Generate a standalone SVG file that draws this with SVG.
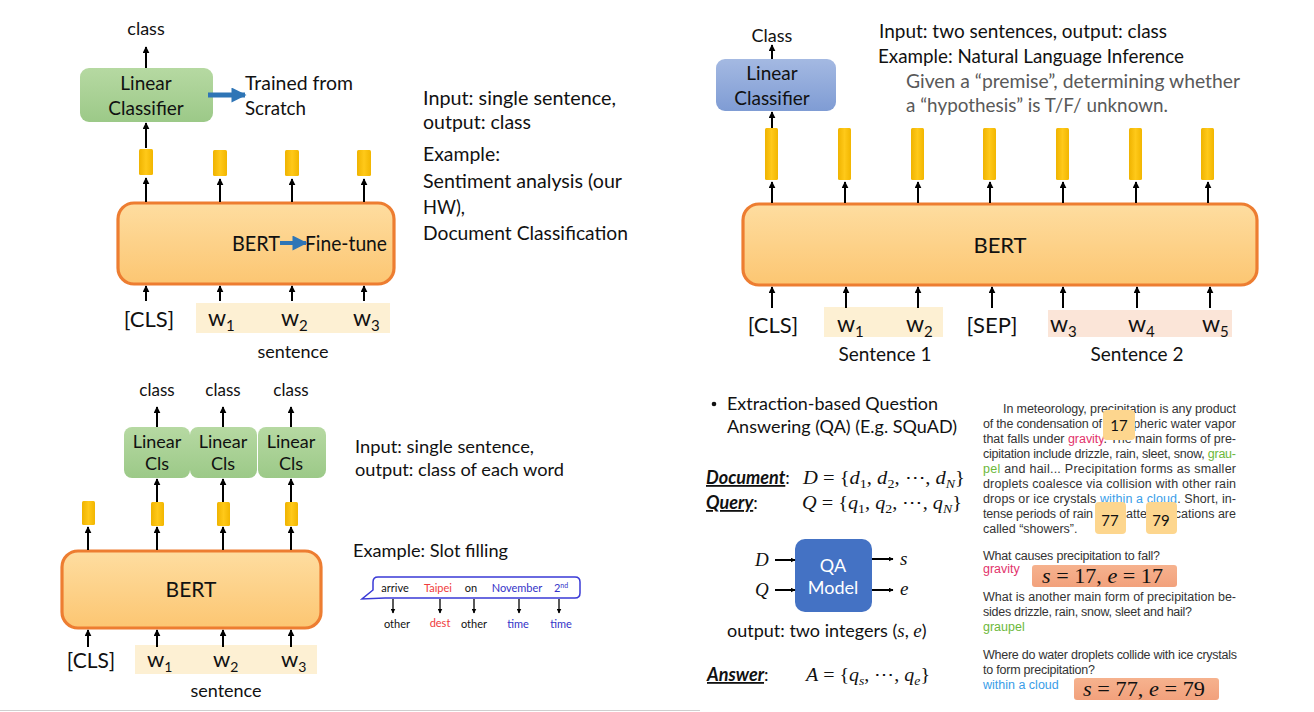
<svg xmlns="http://www.w3.org/2000/svg" width="1314" height="712" viewBox="0 0 1314 712">
<defs>
<style>
.t{font-family:Lato,"Open Sans","Liberation Sans",sans-serif;fill:#111}
.g{fill:#595959}
.m{font-family:"Liberation Serif","DejaVu Serif",serif;font-style:italic;fill:#111}
.p{font-family:"Liberation Sans",Arial,sans-serif;font-size:12.5px;fill:#333}
.ln{stroke:#000;stroke-width:2;fill:none;marker-end:url(#ah)}
.sl{stroke:#000;stroke-width:1.3;fill:none;marker-end:url(#ahs)}
.bl{stroke:#2e75b6;stroke-width:5;fill:none;marker-end:url(#bh)}
.bar{fill:url(#yel)}
.bert{fill:url(#org);stroke:#ed7d31;stroke-width:3.2}
.grn{fill:url(#gr)}
.sbg1{fill:#fdf0d3}
.sbg2{fill:#fbe5d8}
.nb{fill:#fdd68e}
.ans{fill:url(#sal)}
</style>
<linearGradient id="yel" x1="0" y1="0" x2="1" y2="0"><stop offset="0" stop-color="#efb300"/><stop offset="0.5" stop-color="#ffc919"/><stop offset="1" stop-color="#f2b600"/></linearGradient>
<linearGradient id="org" x1="0" y1="0" x2="0" y2="1"><stop offset="0" stop-color="#fedda0"/><stop offset="1" stop-color="#fcc672"/></linearGradient>
<linearGradient id="gr" x1="0" y1="0" x2="0" y2="1"><stop offset="0" stop-color="#b6d9a2"/><stop offset="1" stop-color="#9cc988"/></linearGradient>
<linearGradient id="blu" x1="0" y1="0" x2="0" y2="1"><stop offset="0" stop-color="#a4b9e2"/><stop offset="1" stop-color="#7f9cd4"/></linearGradient>
<linearGradient id="sal" x1="0" y1="0" x2="0" y2="1"><stop offset="0" stop-color="#f6b28e"/><stop offset="1" stop-color="#f2a17c"/></linearGradient>
<marker id="ah" viewBox="0 0 10 10" refX="9" refY="5" markerWidth="7" markerHeight="7" markerUnits="userSpaceOnUse" orient="auto"><path d="M0,0 L10,5 L0,10 z" fill="#000"/></marker>
<marker id="ahs" viewBox="0 0 10 10" refX="9" refY="5" markerWidth="5" markerHeight="5" markerUnits="userSpaceOnUse" orient="auto"><path d="M0,0 L10,5 L0,10 z" fill="#000"/></marker>
<marker id="bh" viewBox="0 0 10 10" refX="9" refY="5" markerWidth="16" markerHeight="15" markerUnits="userSpaceOnUse" orient="auto"><path d="M0,0 L10,5 L0,10 z" fill="#2e75b6"/></marker>
</defs>
<rect width="1314" height="712" fill="#fff"/>

<!-- ===== Top-left panel ===== -->
<g id="tl-class"><text class="t" x="146" y="35" font-size="18" text-anchor="middle">class</text></g>
<g id="tl-linear"><rect class="grn" x="80" y="68" width="133" height="54" rx="9"/>
<text class="t" x="146" y="90" font-size="19" text-anchor="middle">Linear</text>
<text class="t" x="146" y="115" font-size="19" text-anchor="middle">Classifier</text></g>
<g id="tl-trained"><text class="t" x="245" y="90" font-size="19" textLength="108" lengthAdjust="spacingAndGlyphs">Trained from</text>
<text class="t" x="245" y="115" font-size="19" textLength="61" lengthAdjust="spacingAndGlyphs">Scratch</text></g>
<g id="tl-bars"><rect class="bar" x="139" y="149" width="14" height="26" rx="1.5"/><rect class="bar" x="213" y="150" width="14" height="26" rx="1.5"/><rect class="bar" x="285" y="150" width="14" height="26" rx="1.5"/><rect class="bar" x="357" y="150" width="14" height="26" rx="1.5"/></g>
<g id="tl-bert"><rect class="bert" x="118" y="203" width="276" height="81" rx="16"/>
<text class="t" x="232" y="251" font-size="22" textLength="48" lengthAdjust="spacingAndGlyphs">BERT</text>
<text class="t" x="305" y="251" font-size="21" textLength="82" lengthAdjust="spacingAndGlyphs">Fine-tune</text></g>
<g id="tl-inputs"><rect class="sbg1" x="196" y="303" width="194" height="30"/>
<text class="t" x="149" y="327" font-size="22" text-anchor="middle">[CLS]</text>
<text class="t" x="208" y="326" font-size="23">w<tspan dy="5" font-size="15">1</tspan></text>
<text class="t" x="281" y="326" font-size="23">w<tspan dy="5" font-size="15">2</tspan></text>
<text class="t" x="353" y="326" font-size="23">w<tspan dy="5" font-size="15">3</tspan></text>
<text class="t" x="293" y="358" font-size="18" text-anchor="middle">sentence</text></g>
<g id="tl-desc">
<text class="t" x="423" y="105" font-size="19" textLength="193" lengthAdjust="spacingAndGlyphs">Input: single sentence,</text>
<text class="t" x="423" y="129" font-size="19" textLength="108" lengthAdjust="spacingAndGlyphs">output: class</text>
<text class="t" x="423" y="161" font-size="19" textLength="77" lengthAdjust="spacingAndGlyphs">Example:</text>
<text class="t" x="423" y="188" font-size="19" textLength="199" lengthAdjust="spacingAndGlyphs">Sentiment analysis (our</text>
<text class="t" x="423" y="214" font-size="19" textLength="42" lengthAdjust="spacingAndGlyphs">HW),</text>
<text class="t" x="423" y="240" font-size="19" textLength="205" lengthAdjust="spacingAndGlyphs">Document Classification</text>
</g>

<!-- ===== Top-right panel ===== -->
<g id="tr-class"><text class="t" x="772" y="42" font-size="18" text-anchor="middle">Class</text></g>
<g id="tr-linear"><rect x="716" y="59" width="120" height="52" rx="9" fill="url(#blu)"/>
<text class="t" x="772" y="80" font-size="19" text-anchor="middle">Linear</text>
<text class="t" x="772" y="105" font-size="19" text-anchor="middle">Classifier</text></g>
<g id="tr-desc">
<text class="t" x="879" y="38" font-size="19" textLength="288" lengthAdjust="spacingAndGlyphs">Input: two sentences, output: class</text>
<text class="t" x="878" y="63" font-size="19" textLength="306" lengthAdjust="spacingAndGlyphs">Example: Natural Language Inference</text>
<text class="t g" x="906" y="88" font-size="20" textLength="334" lengthAdjust="spacingAndGlyphs">Given a “premise”, determining whether</text>
<text class="t g" x="906" y="112" font-size="20" textLength="262" lengthAdjust="spacingAndGlyphs">a “hypothesis” is T/F/ unknown.</text>
</g>
<g id="tr-bars"><rect class="bar" x="765" y="128" width="13" height="52" rx="1.5"/><rect class="bar" x="838" y="128" width="13" height="52" rx="1.5"/><rect class="bar" x="911" y="128" width="13" height="52" rx="1.5"/><rect class="bar" x="983" y="128" width="13" height="52" rx="1.5"/><rect class="bar" x="1056" y="128" width="13" height="52" rx="1.5"/><rect class="bar" x="1129" y="128" width="13" height="52" rx="1.5"/><rect class="bar" x="1201" y="128" width="13" height="52" rx="1.5"/></g>
<g id="tr-bert"><rect class="bert" x="743" y="204" width="514" height="81" rx="16"/>
<text class="t" x="1000" y="253" font-size="22" text-anchor="middle">BERT</text></g>
<g id="tr-inputs"><rect class="sbg1" x="824" y="307" width="119" height="30"/><rect class="sbg2" x="1048" y="310" width="184" height="27"/>
<text class="t" x="773" y="333" font-size="22" text-anchor="middle">[CLS]</text>
<text class="t" x="837" y="332" font-size="23">w<tspan dy="5" font-size="15">1</tspan></text>
<text class="t" x="906" y="332" font-size="23">w<tspan dy="5" font-size="15">2</tspan></text>
<text class="t" x="992" y="333" font-size="22" text-anchor="middle">[SEP]</text>
<text class="t" x="1050" y="332" font-size="23">w<tspan dy="5" font-size="15">3</tspan></text>
<text class="t" x="1128" y="332" font-size="23">w<tspan dy="5" font-size="15">4</tspan></text>
<text class="t" x="1202" y="332" font-size="23">w<tspan dy="5" font-size="15">5</tspan></text>
<text class="t" x="885" y="361" font-size="19" text-anchor="middle">Sentence 1</text>
<text class="t" x="1137" y="361" font-size="19" text-anchor="middle">Sentence 2</text></g>

<!-- ===== Bottom-left panel ===== -->
<g id="bl-classes"><text class="t" x="157" y="396" font-size="17" text-anchor="middle">class</text><text class="t" x="223" y="396" font-size="17" text-anchor="middle">class</text><text class="t" x="291" y="396" font-size="17" text-anchor="middle">class</text></g>
<g id="bl-cls1"><rect class="grn" x="124" y="427" width="66" height="51" rx="8"/><text class="t" x="157" y="448" font-size="18" text-anchor="middle">Linear</text><text class="t" x="157" y="470" font-size="18" text-anchor="middle">Cls</text></g>
<g id="bl-cls2"><rect class="grn" x="190" y="427" width="67" height="51" rx="8"/><text class="t" x="223" y="448" font-size="18" text-anchor="middle">Linear</text><text class="t" x="223" y="470" font-size="18" text-anchor="middle">Cls</text></g>
<g id="bl-cls3"><rect class="grn" x="258" y="427" width="68" height="51" rx="8"/><text class="t" x="291" y="448" font-size="18" text-anchor="middle">Linear</text><text class="t" x="291" y="470" font-size="18" text-anchor="middle">Cls</text></g>
<g id="bl-bars"><rect class="bar" x="82" y="501" width="13" height="24" rx="1.5"/><rect class="bar" x="151" y="502" width="13" height="24" rx="1.5"/><rect class="bar" x="217" y="502" width="13" height="24" rx="1.5"/><rect class="bar" x="285" y="502" width="13" height="24" rx="1.5"/></g>
<g id="bl-bert"><rect class="bert" x="62" y="551" width="259" height="77" rx="16"/><text class="t" x="191" y="597" font-size="21" text-anchor="middle">BERT</text></g>
<g id="bl-inputs"><rect class="sbg1" x="135" y="645" width="182" height="29"/>
<text class="t" x="91" y="668" font-size="21" text-anchor="middle">[CLS]</text>
<text class="t" x="147" y="667" font-size="22">w<tspan dy="5" font-size="14">1</tspan></text>
<text class="t" x="213" y="667" font-size="22">w<tspan dy="5" font-size="14">2</tspan></text>
<text class="t" x="281" y="667" font-size="22">w<tspan dy="5" font-size="14">3</tspan></text>
<text class="t" x="226" y="697" font-size="18" text-anchor="middle">sentence</text></g>
<g id="bl-desc">
<text class="t" x="355" y="453" font-size="18" textLength="179" lengthAdjust="spacingAndGlyphs">Input: single sentence,</text>
<text class="t" x="355" y="476" font-size="18" textLength="209" lengthAdjust="spacingAndGlyphs">output: class of each word</text>
<text class="t" x="353" y="557" font-size="18" textLength="155" lengthAdjust="spacingAndGlyphs">Example: Slot filling</text>
</g>
<g id="bl-slot">
<path d="M378,577 H575 Q580,577 580,582 V593 Q580,598 575,598 H385 L362,599 L373,590 V582 Q373,577 378,577 Z" fill="#fff" stroke="#3a3ad6" stroke-width="1.5"/>
<g class="t" font-size="11" text-anchor="middle">
<text x="395" y="592">arrive</text><text x="438" y="592" style="fill:#f03c3c">Taipei</text><text x="471" y="592">on</text><text x="517" y="592" style="fill:#3434c8">November</text><text x="561" y="592" style="fill:#3434c8">2<tspan dy="-4" font-size="7">nd</tspan></text>
<text x="397" y="628">other</text><text x="440" y="627" style="fill:#f03c3c">dest</text><text x="474" y="628">other</text><text x="518" y="628" style="fill:#3434c8">time</text><text x="561" y="628" style="fill:#3434c8">time</text>
</g></g>

<!-- ===== Bottom-right panel ===== -->
<g id="qa-title"><circle cx="714" cy="404" r="2.3" fill="#111"/>
<text class="t" x="727" y="410" font-size="18" textLength="211" lengthAdjust="spacingAndGlyphs">Extraction-based Question</text>
<text class="t" x="727" y="433" font-size="18" textLength="230" lengthAdjust="spacingAndGlyphs">Answering (QA) (E.g. SQuAD)</text></g>
<g id="qa-doc"><text class="t" x="706" y="484" font-size="18"><tspan font-weight="bold" font-style="italic" text-decoration="underline">Document</tspan>:</text>
<text class="m" x="803" y="484" font-size="19" textLength="162" lengthAdjust="spacingAndGlyphs">D<tspan font-style="normal"> = {</tspan>d<tspan dy="4" font-size="13" font-style="normal">1</tspan><tspan dy="-4" font-style="normal">, </tspan>d<tspan dy="4" font-size="13" font-style="normal">2</tspan><tspan dy="-4" font-style="normal">, ⋯, </tspan>d<tspan dy="4" font-size="13">N</tspan><tspan dy="-4" font-style="normal">}</tspan></text></g>
<g id="qa-query"><text class="t" x="706" y="509" font-size="18"><tspan font-weight="bold" font-style="italic" text-decoration="underline">Query</tspan>:</text>
<text class="m" x="802" y="509" font-size="19" textLength="160" lengthAdjust="spacingAndGlyphs">Q<tspan font-style="normal"> = {</tspan>q<tspan dy="4" font-size="13" font-style="normal">1</tspan><tspan dy="-4" font-style="normal">, </tspan>q<tspan dy="4" font-size="13" font-style="normal">2</tspan><tspan dy="-4" font-style="normal">, ⋯, </tspan>q<tspan dy="4" font-size="13">N</tspan><tspan dy="-4" font-style="normal">}</tspan></text></g>
<g id="qa-model"><rect x="795" y="539" width="77" height="73" rx="10" fill="#4472c4"/>
<text class="t" x="833" y="572" font-size="18" text-anchor="middle" style="fill:#fff">QA</text>
<text class="t" x="833" y="594" font-size="18" text-anchor="middle" style="fill:#fff">Model</text></g>
<g id="qa-io"><text class="m" x="755" y="566" font-size="19">D</text><text class="m" x="755" y="596" font-size="19">Q</text>
<text class="m" x="900" y="565" font-size="19">s</text><text class="m" x="900" y="595" font-size="19">e</text></g>
<g id="qa-output"><text class="t" x="727" y="637" font-size="18">output: two integers (<tspan class="m" font-size="19">s</tspan>, <tspan class="m" font-size="19">e</tspan>)</text></g>
<g id="qa-answer"><text class="t" x="707" y="681" font-size="18"><tspan font-weight="bold" font-style="italic" text-decoration="underline">Answer</tspan>:</text>
<text class="m" x="806" y="681" font-size="19" textLength="124" lengthAdjust="spacingAndGlyphs">A<tspan font-style="normal"> = {</tspan>q<tspan dy="4" font-size="13">s</tspan><tspan dy="-4" font-style="normal">, ⋯, </tspan>q<tspan dy="4" font-size="13">e</tspan><tspan dy="-4" font-style="normal">}</tspan></text></g>

<g id="qa-passage">
<text class="p" x="1003" y="413" textLength="233" lengthAdjust="spacing">In meteorology, precipitation is any product</text>
<text class="p" x="983" y="428" textLength="119" lengthAdjust="spacing">of the condensation of</text>
<text class="p" x="1236" y="428" text-anchor="end">spheric water vapor</text>
<text class="p" x="983" y="443" textLength="253" lengthAdjust="spacing">that falls under <tspan style="fill:#e2336b">gravity</tspan>. The main forms of pre-</text>
<text class="p" x="983" y="458" textLength="253" lengthAdjust="spacing">cipitation include drizzle, rain, sleet, snow, <tspan style="fill:#6cb83a">grau-</tspan></text>
<text class="p" x="983" y="473" textLength="253" lengthAdjust="spacing"><tspan style="fill:#6cb83a">pel</tspan> and hail...  Precipitation forms as smaller</text>
<text class="p" x="983" y="488" textLength="253" lengthAdjust="spacing">droplets coalesce via collision with other rain</text>
<text class="p" x="983" y="503" textLength="253" lengthAdjust="spacing">drops or ice crystals <tspan style="fill:#3a9de8">within a cloud</tspan>. Short, in-</text>
<text class="p" x="983" y="518" textLength="110" lengthAdjust="spacing">tense periods of rain</text>
<text class="p" x="1126" y="518">atte</text>
<text class="p" x="1236" y="518" text-anchor="end">cations are</text>
<text class="p" x="983" y="533">called “showers”.</text>
</g>
<g id="qa-pos17"><rect class="nb" x="1103" y="410" width="32" height="30" rx="4"/><text class="t" x="1119" y="431" font-size="15" text-anchor="middle">17</text></g>
<g id="qa-pos77"><rect class="nb" x="1095" y="502" width="31" height="32" rx="4"/><text class="t" x="1110" y="526" font-size="15" text-anchor="middle">77</text></g>
<g id="qa-pos79"><rect class="nb" x="1146" y="502" width="31" height="32" rx="4"/><text class="t" x="1161" y="526" font-size="15" text-anchor="middle">79</text></g>
<g id="qa-q1">
<text class="p" x="983" y="560" textLength="177" lengthAdjust="spacing">What causes precipitation to fall?</text>
<text class="p" x="983" y="573" style="fill:#e2336b">gravity</text>
<rect class="ans" x="1032" y="565" width="145" height="22" rx="3"/>
<text class="m" x="1042" y="583" font-size="21" textLength="121" lengthAdjust="spacingAndGlyphs">s<tspan font-style="normal"> = 17, </tspan>e<tspan font-style="normal"> = 17</tspan></text>
</g>
<g id="qa-q2">
<text class="p" x="983" y="601" textLength="253" lengthAdjust="spacing">What is another main form of precipitation be-</text>
<text class="p" x="983" y="616" textLength="209" lengthAdjust="spacing">sides drizzle, rain, snow, sleet and hail?</text>
<text class="p" x="983" y="631" style="fill:#6cb83a">graupel</text>
</g>
<g id="qa-q3">
<text class="p" x="983" y="659" textLength="254" lengthAdjust="spacing">Where do water droplets collide with ice crystals</text>
<text class="p" x="983" y="674" textLength="112" lengthAdjust="spacing">to form precipitation?</text>
<text class="p" x="983" y="689" style="fill:#3a9de8">within a cloud</text>
<rect class="ans" x="1074" y="678" width="145" height="22" rx="3"/>
<text class="m" x="1083" y="696" font-size="21" textLength="122" lengthAdjust="spacingAndGlyphs">s<tspan font-style="normal"> = 77, </tspan>e<tspan font-style="normal"> = 79</tspan></text>
</g>

<line x1="0" y1="710.5" x2="700" y2="710.5" stroke="#cfcfcf" stroke-width="1"/>

<!-- ===== Connectors ===== -->
<g id="connectors">
<line class="ln" x1="146" y1="68" x2="146" y2="47"/>
<line class="ln" x1="146" y1="148" x2="146" y2="123"/>
<line class="ln" x1="146" y1="202" x2="146" y2="178"/>
<line class="ln" x1="220" y1="202" x2="220" y2="179"/>
<line class="ln" x1="292" y1="202" x2="292" y2="179"/>
<line class="ln" x1="364" y1="202" x2="364" y2="179"/>
<line class="ln" x1="146" y1="301" x2="146" y2="286"/>
<line class="ln" x1="220" y1="301" x2="220" y2="286"/>
<line class="ln" x1="292" y1="301" x2="292" y2="286"/>
<line class="ln" x1="364" y1="301" x2="364" y2="286"/>
<line class="bl" x1="208" y1="95" x2="245" y2="95"/>
<line class="bl" x1="280" y1="243" x2="306" y2="243" style="stroke-width:4"/>

<line class="ln" x1="772" y1="59" x2="772" y2="45"/>
<line class="ln" x1="772" y1="128" x2="772" y2="112"/>
<line class="ln" x1="772" y1="203" x2="772" y2="182"/>
<line class="ln" x1="845" y1="203" x2="845" y2="182"/>
<line class="ln" x1="918" y1="203" x2="918" y2="182"/>
<line class="ln" x1="990" y1="203" x2="990" y2="182"/>
<line class="ln" x1="1063" y1="203" x2="1063" y2="182"/>
<line class="ln" x1="1136" y1="203" x2="1136" y2="182"/>
<line class="ln" x1="1208" y1="203" x2="1208" y2="182"/>
<line class="ln" x1="772" y1="308" x2="772" y2="287"/>
<line class="ln" x1="846" y1="308" x2="846" y2="287"/>
<line class="ln" x1="918" y1="308" x2="918" y2="287"/>
<line class="ln" x1="992" y1="308" x2="992" y2="287"/>
<line class="ln" x1="1063" y1="308" x2="1063" y2="287"/>
<line class="ln" x1="1137" y1="308" x2="1137" y2="287"/>
<line class="ln" x1="1210" y1="308" x2="1210" y2="287"/>

<line class="ln" x1="157" y1="427" x2="157" y2="407"/>
<line class="ln" x1="223" y1="427" x2="223" y2="407"/>
<line class="ln" x1="291" y1="427" x2="291" y2="407"/>
<line class="ln" x1="157" y1="502" x2="157" y2="479"/>
<line class="ln" x1="223" y1="502" x2="223" y2="479"/>
<line class="ln" x1="291" y1="502" x2="291" y2="479"/>
<line class="ln" x1="88" y1="550" x2="88" y2="527"/>
<line class="ln" x1="157" y1="550" x2="157" y2="527"/>
<line class="ln" x1="223" y1="550" x2="223" y2="527"/>
<line class="ln" x1="291" y1="550" x2="291" y2="527"/>
<line class="ln" x1="88" y1="647" x2="88" y2="630"/>
<line class="ln" x1="157" y1="647" x2="157" y2="630"/>
<line class="ln" x1="223" y1="647" x2="223" y2="630"/>
<line class="ln" x1="291" y1="647" x2="291" y2="630"/>

<line class="sl" x1="393" y1="599" x2="393" y2="613"/>
<line class="sl" x1="440" y1="599" x2="440" y2="613"/>
<line class="sl" x1="474" y1="599" x2="474" y2="613"/>
<line class="sl" x1="519" y1="599" x2="519" y2="613"/>
<line class="sl" x1="559" y1="599" x2="559" y2="613"/>

<line class="ln" x1="775" y1="560" x2="795" y2="560" style="marker-end:url(#ahs)"/>
<line class="ln" x1="775" y1="590" x2="795" y2="590" style="marker-end:url(#ahs)"/>
<line class="ln" x1="872" y1="559" x2="893" y2="559" style="marker-end:url(#ahs)"/>
<line class="ln" x1="872" y1="590" x2="893" y2="590" style="marker-end:url(#ahs)"/>
</g>
</svg>
